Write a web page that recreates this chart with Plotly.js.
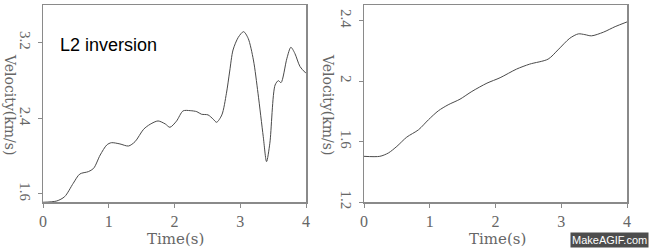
<!DOCTYPE html>
<html>
<head>
<meta charset="utf-8">
<script src="https://cdn.plot.ly/plotly-3.0.1.min.js"></script>
<style>html,body{margin:0;padding:0;background:#fff;}#chart{width:649px;height:248px;}</style>
</head>
<body>
<div id="chart"></div>
<script>
// Left panel: L2 inversion velocity vs time
const leftTime = [0, 0.21, 0.33, 0.46, 0.56, 0.69, 0.77, 0.87, 0.97, 1.04, 1.17, 1.30, 1.40, 1.53, 1.63, 1.75, 1.86, 1.93, 2.03, 2.13, 2.24, 2.34, 2.41, 2.51, 2.59, 2.64, 2.72, 2.79, 2.84, 2.89, 2.97, 3.05, 3.12, 3.20, 3.27, 3.35, 3.40, 3.45, 3.53, 3.58, 3.62, 3.71, 3.77, 3.83, 3.91, 4.0];
const leftVel  = [1.512, 1.526, 1.572, 1.713, 1.811, 1.836, 1.871, 2.012, 2.118, 2.142, 2.129, 2.107, 2.153, 2.284, 2.337, 2.372, 2.340, 2.305, 2.370, 2.478, 2.481, 2.470, 2.443, 2.436, 2.390, 2.358, 2.436, 2.665, 2.900, 3.122, 3.256, 3.316, 3.246, 3.017, 2.665, 2.206, 1.942, 2.136, 2.752, 2.798, 2.777, 3.035, 3.151, 3.087, 2.946, 2.876];

// Right panel: velocity vs time
const rightTime = [0, 0.24, 0.37, 0.50, 0.65, 0.83, 0.98, 1.13, 1.28, 1.46, 1.64, 1.87, 2.07, 2.32, 2.52, 2.80, 2.95, 3.13, 3.26, 3.36, 3.46, 3.64, 3.82, 4.0];
const rightVel  = [1.502, 1.502, 1.524, 1.568, 1.629, 1.678, 1.744, 1.803, 1.843, 1.880, 1.931, 1.986, 2.022, 2.079, 2.112, 2.145, 2.206, 2.283, 2.312, 2.307, 2.299, 2.323, 2.360, 2.391];

const xTicks = [0, 1, 2, 3, 4];
const leftYTicks = [1.6, 2.4, 3.2];
const rightYTicks = [1.2, 1.6, 2, 2.4];
const xTitle = 'Time(s)';
const yTitle = 'Velocity(km/s)';
const panelLabel = 'L2 inversion';
const watermark = 'MakeAGIF.com';

const W = 649, H = 248;
const serif = 'DejaVu Serif, Liberation Serif, serif';
const tickSerif = 'Liberation Serif, serif';
const axisGrey = '#8a8a8a';
const textGrey = '#666';

function xAxis(x0, x1, anchor) {
  return {
    domain: [x0 / W, x1 / W], anchor: anchor, range: [0, 4],
    tickvals: xTicks, ticktext: xTicks.map(String),
    ticks: 'outside', ticklen: 4, tickcolor: axisGrey, tickwidth: 1,
    showline: true, linecolor: axisGrey, linewidth: 1.5, mirror: true,
    showgrid: false, zeroline: false,
    tickfont: {family: tickSerif, size: 16, color: textGrey}
  };
}
function yAxis(range, ticks, anchor) {
  return {
    domain: [(H - 202) / H, (H - 5) / H], anchor: anchor, range: range,
    tickvals: ticks, ticktext: ticks.map(String),
    ticks: 'outside', ticklen: 4, tickcolor: axisGrey, tickwidth: 1,
    showline: true, linecolor: axisGrey, linewidth: 1.5, mirror: true,
    showgrid: false, zeroline: false, tickangle: 90,
    tickfont: {family: tickSerif, size: 15, color: textGrey}
  };
}

function titleAnn(text, x, y, angle, size) {
  return {text: text, textangle: angle, xref: 'paper', yref: 'paper', x: x / W, y: (H - y) / H,
    showarrow: false, xanchor: 'center', yanchor: 'middle',
    font: {family: serif, size: size, color: textGrey}};
}

const data = [
  {x: leftTime, y: leftVel, xaxis: 'x', yaxis: 'y', mode: 'lines',
   line: {color: '#4a4a4a', width: 1, shape: 'spline', smoothing: 0.8}, hoverinfo: 'skip'},
  {x: rightTime, y: rightVel, xaxis: 'x2', yaxis: 'y2', mode: 'lines',
   line: {color: '#4a4a4a', width: 1, shape: 'spline', smoothing: 0.8}, hoverinfo: 'skip'}
];

const layout = {
  width: W, height: H, margin: {l: 0, r: 0, t: 0, b: 0},
  paper_bgcolor: '#fff', plot_bgcolor: '#fff', showlegend: false,
  xaxis: xAxis(43, 306, 'y'),
  yaxis: yAxis([1.515, 3.598], leftYTicks, 'x'),
  xaxis2: xAxis(364, 627, 'y2'),
  yaxis2: yAxis([1.2, 2.503], rightYTicks, 'x2'),
  annotations: [
    titleAnn(yTitle, 10, 104, 90, 14),
    titleAnn(yTitle, 328, 104, 90, 14),
    titleAnn(xTitle, 175, 238.5, 0, 15),
    titleAnn(xTitle, 497, 238.5, 0, 15),
    {text: panelLabel, xref: 'paper', yref: 'paper', x: 108 / W, y: (H - 45) / H,
     showarrow: false, xanchor: 'center', yanchor: 'middle', font: {family: 'Liberation Sans, Arial, sans-serif', size: 18, color: '#000'}},
    {text: watermark, xref: 'paper', yref: 'paper', x: 1, y: 0,
     showarrow: false, xanchor: 'right', yanchor: 'bottom', bgcolor: '#4d4d4d', borderpad: 1,
     font: {family: 'Liberation Sans, Arial, sans-serif', size: 11, color: '#fff'}}
  ]
};

Plotly.newPlot('chart', data, layout, {staticPlot: true, displayModeBar: false});
</script>
</body>
</html>
